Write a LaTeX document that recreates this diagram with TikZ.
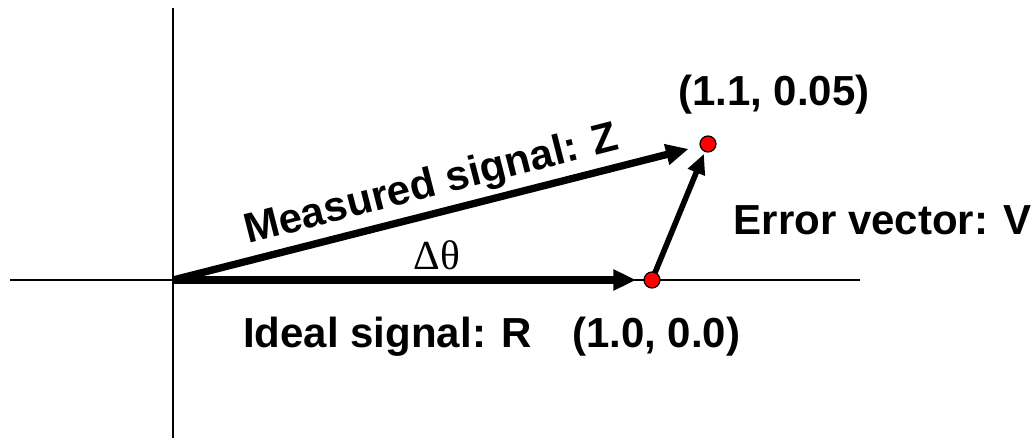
\documentclass[tikz,border=0pt]{standalone}
\usepackage{fontspec}
\setmainfont{Liberation Sans}
\newfontfamily\serifgreek{Liberation Serif}
\usetikzlibrary{arrows.meta,positioning,calc}
\tikzset{
  axisline/.style={black, line width=1.4pt},
  vec/.style={black, line width=5.5pt, -{Triangle[length=17pt,width=15pt]}},
  errvec/.style={black, line width=4.2pt, -{Triangle[length=15pt,width=13pt]}},
  dot/.style={circle, fill=red, draw=black, line width=0.9pt, minimum size=12pt, inner sep=0pt},
  lbl/.style={font=\fontsize{31.5}{36}\selectfont\bfseries, inner sep=0pt}
}
\begin{document}
\begin{tikzpicture}[x=0.75pt, y=-0.75pt]
  \useasboundingbox (0,0) rectangle (1036,438);

  % Axes
  \coordinate (O) at (173,280);
  \coordinate (xl) at (10,280);
  \coordinate (xr) at (860,280);
  \coordinate (yt) at (173,8);
  \coordinate (yb) at (173,438);
  \draw[axisline] (xl) -- (xr);
  \draw[axisline] (yt) -- (yb);

  % Signal points
  \coordinate (R) at (652,280);
  \coordinate (Z) at (708,144);

  % Vectors
  \draw[vec, shorten >=12pt] (O) -- (R);
  \draw[vec, shorten >=15pt] (O) -- (Z);
  \draw[errvec, shorten >=8pt] (R) -- (Z);

  % Dots
  \node[dot] (dotR) at (R) {};
  \node[dot] (dotZ) at (Z) {};

  % Labels
  \node[lbl, rotate=14.3] (measured) at (432,186) {Measured signal: Z};
  \node[font=\fontsize{31}{34}\selectfont\serifgreek, inner sep=0pt] (dtheta) at (437,255) {Δθ};
  \node[lbl, anchor=base west] (ideal) at (243,348) {Ideal signal: R};
  \node[lbl, anchor=base west] (ptR) at (572,348) {(1.0, 0.0)};
  \node[lbl, anchor=base west] (ptZ) at (678,106) {(1.1, 0.05)};
  \node[lbl, anchor=base east] (error) at (1032,235) {Error vector: V};
\end{tikzpicture}
\end{document}
